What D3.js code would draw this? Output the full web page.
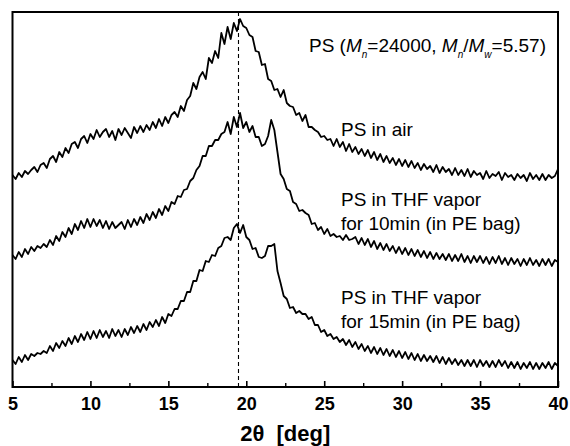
<!DOCTYPE html>
<html>
<head>
<meta charset="utf-8">
<script src="https://cdn.jsdelivr.net/npm/d3@7"></script>
<style>
  body { margin: 0; background: #fff; }
  text { font-family: "Liberation Sans", Arial, sans-serif; }
</style>
</head>
<body>
<div id="chart"></div>
<script>
// 2theta grid, 5..40 deg in 0.2 deg steps (176 points)
const angles = d3.range(176).map(i => +(5 + i * 0.2).toFixed(1))

// intensities (a.u.)
const psAir = [12,8,14,10,16,13,17,20,15,22, 24,19,28,31,25,35,30,39,34,43,
  45,39,48,51,44,53,48,57,50,55, 58,50,56,47,58,52,59,54,49,60,
  54,61,55,62,57,65,59,68,61,70, 64,72,75,70,81,76,87,91,104,98,
  110,115,108,129,124,136,129,154,143,160, 148,164,156,168,161,159,152,150,136,135,
  122,123,108,106,97,98,90,97,84,81, 80,72,74,66,72,60,60,57,55,50,
  51,47,48,41,48,40,45,36,43,35, 40,33,38,31,37,29,35,27,33,25,
  31,24,29,22,28,21,27,20,26,19, 24,17,23,18,21,15,22,14,20,15,
  18,12,19,12,17,11,18,10,16,12, 14,8,16,9,13,11,15,7,14,10,
  12,7,13,9,12,6,14,8,12,7, 13,7,12,9,11, 18]

const psThf10 = [27,23,30,25,33,28,35,31,36,34, 38,35,42,37,46,41,50,45,54,48,
  58,52,61,54,63,55,63,56,62,54, 61,53,60,54,57,60,53,62,55,63,
  57,65,59,68,62,70,64,73,67,76, 71,80,78,86,85,92,93,101,104,112,
  116,126,126,136,136,142,142,148,150,160, 148,165,155,169,154,160,150,156,145,145,
  136,138,146,162,152,130,108,103,93,91, 80,78,71,72,69,67,58,59,52,55,
  48,53,46,48,45,46,42,47,42,43, 45,38,44,37,43,35,41,33,39,32,
  38,31,36,29,35,28,34,27,33,26, 32,25,31,24,30,23,29,23,28,22,
  28,21,27,21,28,20,26,19,26,20, 26,19,25,18,25,19,26,18,24,17,
  24,18,23,16,23,17,24,17,22,16, 23,17,23,16,22, 20]

const psThf15 = [27,23,30,25,32,27,33,31,34,33, 36,34,41,36,44,39,46,41,49,43,
  51,45,53,47,55,48,56,49,57,50, 56,49,58,51,57,50,58,52,60,54,
  61,55,63,57,65,60,67,61,70,64, 73,71,78,78,86,86,95,95,106,106,
  117,116,126,125,132,131,139,141,149,150, 147,159,163,154,162,150,147,138,139,130,
  129,131,141,141,143,116,104,91,88,79, 80,74,76,73,73,68,70,62,62,55,
  57,51,53,48,50,45,48,42,47,40, 45,38,43,36,41,34,40,33,39,32,
  38,31,37,30,36,29,35,28,34,27, 33,26,32,26,31,25,31,24,30,23,
  29,23,28,22,27,21,27,21,27,20, 27,21,26,20,26,20,27,21,26,19,
  25,19,25,18,24,19,25,18,24,18, 24,19,25,18,24, 21]

const seriesNames = ["psAir", "psThf10", "psThf15"]
const seriesData = [psAir, psThf10, psThf15]
const offsets = [200, 105, 0]   // vertical stacking shift (a.u.)
const peakRef = 19.5            // dashed reference line (deg)
const xTicks = [5, 10, 15, 20, 25, 30, 35, 40]
const xMinor = [7.5, 12.5, 17.5, 22.5, 27.5, 32.5, 37.5]

const W = 570, H = 446
const margin = { top: 12, right: 12, bottom: 59, left: 12.5 },
  w = W - margin.left - margin.right,
  h = H - margin.top - margin.bottom

const svg = d3.select("#chart")
  .append("svg")
  .attr("width", W)
  .attr("height", H)

const g = svg.append("g")
  .attr("transform", `translate(${margin.left}, ${margin.top})`)

const x = d3.scaleLinear().domain([5, 40]).range([0, w])
const y = d3.scaleLinear().domain([0, 375]).range([h, 0])

// traces
const line = d3.line()
  .x(d => x(d[0]))
  .y(d => y(d[1]))

seriesData.forEach((vals, k) => {
  g.append("path")
    .attr("class", seriesNames[k])
    .datum(vals.map((v, i) => [angles[i], v + offsets[k]]))
    .attr("fill", "none")
    .attr("stroke", "#000")
    .attr("stroke-width", 1.8)
    .attr("stroke-linejoin", "round")
    .attr("d", line)
})

// dashed reference line
g.append("line")
  .attr("x1", x(peakRef)).attr("x2", x(peakRef))
  .attr("y1", 0).attr("y2", h)
  .attr("stroke", "#000")
  .attr("stroke-width", 1.1)
  .attr("stroke-dasharray", "4,3")

// x axis, ticks pointing inward
const xAxis = g.append("g")
  .attr("transform", `translate(0, ${h})`)
  .call(d3.axisBottom(x).tickValues(xTicks).tickSizeInner(-6).tickSizeOuter(0).tickPadding(10))
xAxis.select(".domain").remove()
xAxis.selectAll(".tick line").attr("stroke-width", 1.6)
xAxis.selectAll("text")
  .attr("fill", "#000")
  .style("font-size", "18px")
  .style("font-weight", "bold")

const xAxisMinor = g.append("g")
  .attr("transform", `translate(0, ${h})`)
  .call(d3.axisBottom(x).tickValues(xMinor).tickSizeInner(-4).tickSizeOuter(0).tickFormat(""))
xAxisMinor.select(".domain").remove()
xAxisMinor.selectAll(".tick line").attr("stroke-width", 1.4)

// frame
g.append("rect")
  .attr("x", 0).attr("y", 0)
  .attr("width", w).attr("height", h)
  .attr("fill", "none")
  .attr("stroke", "#000")
  .attr("stroke-width", 2)

// x label
svg.append("text")
  .attr("x", margin.left + w / 2)
  .attr("y", 441)
  .attr("text-anchor", "middle")
  .style("font-size", "22px")
  .style("font-weight", "bold")
  .attr("xml:space", "preserve")
  .text("2θ  [deg]")

// sample title with italic M and subscripts
const title = svg.append("text")
  .attr("x", 309)
  .attr("y", 52)
  .style("font-size", "19px")
title.append("tspan").text("PS (")
title.append("tspan").style("font-style", "italic").text("M")
title.append("tspan").attr("dy", 6).style("font-size", "10px").style("font-style", "italic").text("n")
title.append("tspan").attr("dy", -6).text("=24000, ")
title.append("tspan").style("font-style", "italic").text("M")
title.append("tspan").attr("dy", 6).style("font-size", "10px").style("font-style", "italic").text("n")
title.append("tspan").attr("dy", -6).text("/")
title.append("tspan").style("font-style", "italic").text("M")
title.append("tspan").attr("dy", 6).style("font-size", "10px").style("font-style", "italic").text("w")
title.append("tspan").attr("dy", -6).text("=5.57)")

// trace labels
const labels = [
  { lines: ["PS in air"], y: 136 },
  { lines: ["PS in THF vapor", "for 10min (in PE bag)"], y: 206 },
  { lines: ["PS in THF vapor", "for 15min (in PE bag)"], y: 304 }
]
labels.forEach(l => {
  l.lines.forEach((t, i) => {
    svg.append("text")
      .attr("x", 341)
      .attr("y", l.y + i * 24)
      .style("font-size", "19px")
      .text(t)
  })
})
</script>
</body>
</html>
